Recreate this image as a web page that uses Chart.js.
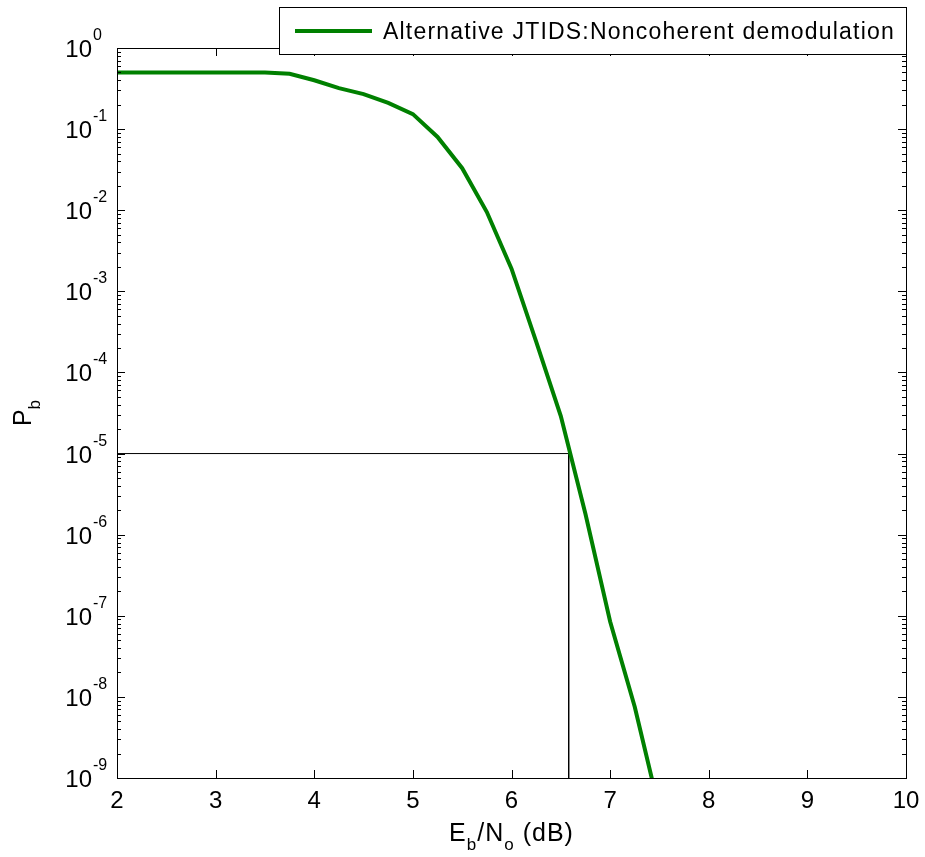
<!DOCTYPE html>
<html>
<head>
<meta charset="utf-8">
<script src="https://cdn.jsdelivr.net/npm/chart.js@4"></script>
<style>
  html, body { margin: 0; padding: 0; background: #fff; }
  #wrap { width: 925px; height: 857px; }
</style>
</head>
<body>
<div id="wrap"><canvas id="c" width="925" height="857"></canvas></div>
<script>
// Eb/No in dB
const ebno = [2, 2.25, 2.5, 2.75, 3, 3.25, 3.5, 3.75, 4, 4.25, 4.5, 4.75, 5, 5.25, 5.5, 5.75, 6, 6.25, 6.5, 6.75, 7, 7.25, 7.5];
// bit error probability
const pb = [0.5, 0.5, 0.5, 0.5, 0.5, 0.5, 0.5, 0.48, 0.40, 0.32, 0.27, 0.21, 0.153, 0.080, 0.033, 0.0095, 0.0019, 2.4e-4, 2.9e-5, 1.8e-6, 8.5e-8, 7.5e-9, 4e-10];
// where the curve hits 1e-5
const refX = [2, 6.58, 6.58];
const refY = [1e-5, 1e-5, 1e-9];
const xTicks = [2, 3, 4, 5, 6, 7, 8, 9, 10];
const yDecades = [0, -1, -2, -3, -4, -5, -6, -7, -8, -9];
const seriesLabel = "Alternative JTIDS:Noncoherent demodulation";

const FONT = "'Liberation Sans', Arial, Helvetica, sans-serif";

const curve = ebno.map((x, i) => ({ x: x, y: pb[i] }));
const refLine = refX.map((x, i) => ({ x: x, y: refY[i] }));

// draws frame, inward ticks, labels, legend, titles (matlab look)
const matlabAxes = {
  id: "matlabAxes",
  afterDraw(chart) {
    const ctx = chart.ctx;
    const a = chart.chartArea;
    const xs = chart.scales.x;
    const ys = chart.scales.y;
    ctx.save();
    ctx.strokeStyle = "#000";
    ctx.lineWidth = 1;
    ctx.strokeRect(Math.round(a.left) + 0.5, Math.round(a.top) + 0.5, Math.round(a.right - a.left), Math.round(a.bottom - a.top));

    // x ticks
    ctx.beginPath();
    xTicks.forEach(v => {
      const px = Math.round(xs.getPixelForValue(v)) + 0.5;
      ctx.moveTo(px, a.bottom); ctx.lineTo(px, a.bottom - 8);
      ctx.moveTo(px, a.top); ctx.lineTo(px, a.top + 8);
    });
    // y ticks, major + minor
    yDecades.forEach(d => {
      const py = Math.round(ys.getPixelForValue(Math.pow(10, d))) + 0.5;
      ctx.moveTo(a.left, py); ctx.lineTo(a.left + 8, py);
      ctx.moveTo(a.right, py); ctx.lineTo(a.right - 8, py);
      if (d > -9) {
        for (let m = 2; m <= 9; m++) {
          const pm = Math.round(ys.getPixelForValue(m * Math.pow(10, d - 1))) + 0.5;
          ctx.moveTo(a.left, pm); ctx.lineTo(a.left + 4, pm);
          ctx.moveTo(a.right, pm); ctx.lineTo(a.right - 4, pm);
        }
      }
    });
    ctx.stroke();

    ctx.fillStyle = "#000";
    // x tick labels
    ctx.font = "24px " + FONT;
    ctx.textAlign = "center";
    ctx.textBaseline = "alphabetic";
    xTicks.forEach(v => {
      ctx.fillText(String(v), xs.getPixelForValue(v), a.bottom + 30);
    });
    // y tick labels 10^n
    yDecades.forEach(d => {
      const py = ys.getPixelForValue(Math.pow(10, d));
      ctx.font = "24px " + FONT;
      ctx.textAlign = "right";
      ctx.fillText("10", 92, py + 9);
      ctx.font = "16px " + FONT;
      ctx.textAlign = "left";
      ctx.fillText(d === 0 ? "0" : "-" + (-d), 93, py - 8);
    });

    // x title  Eb/No (dB)
    const cx = (a.left + a.right) / 2;
    const parts = [["E", 0], ["b", 1], ["/N", 0], ["o", 1], [" (dB)", 0]];
    ctx.letterSpacing = "1px";
    let w = 0;
    parts.forEach(p => { ctx.font = (p[1] ? "17px " : "25px ") + FONT; w += ctx.measureText(p[0]).width; });
    let x0 = cx - w / 2;
    ctx.textAlign = "left";
    parts.forEach(p => {
      ctx.font = (p[1] ? "17px " : "25px ") + FONT;
      ctx.fillText(p[0], x0, p[1] ? 850 : 841);
      x0 += ctx.measureText(p[0]).width;
    });
    ctx.letterSpacing = "0px";

    // y title  Pb
    ctx.save();
    ctx.translate(31, (a.top + a.bottom) / 2);
    ctx.rotate(-Math.PI / 2);
    ctx.font = "25px " + FONT;
    const pw = ctx.measureText("P").width;
    ctx.font = "17px " + FONT;
    const bw = ctx.measureText("b").width;
    ctx.font = "25px " + FONT;
    ctx.fillText("P", -(pw + bw) / 2, 0);
    ctx.font = "17px " + FONT;
    ctx.fillText("b", -(pw + bw) / 2 + pw, 9);
    ctx.restore();

    // legend box
    const ds = chart.data.datasets[0];
    ctx.fillStyle = "#fff";
    ctx.fillRect(279, 7, 627, 47);
    ctx.strokeStyle = "#000";
    ctx.lineWidth = 1;
    ctx.strokeRect(279.5, 7.5, 627, 47);
    ctx.strokeStyle = ds.borderColor;
    ctx.lineWidth = ds.borderWidth;
    ctx.beginPath();
    ctx.moveTo(295, 31); ctx.lineTo(372, 31);
    ctx.stroke();
    ctx.fillStyle = "#000";
    ctx.font = "23px " + FONT;
    ctx.letterSpacing = "1.2px";
    ctx.fillText(ds.label, 383, 39);
    ctx.letterSpacing = "0px";
    ctx.restore();
  }
};

new Chart(document.getElementById("c"), {
  type: "line",
  data: {
    datasets: [
      {
        label: seriesLabel,
        data: curve,
        borderColor: "#008000",
        borderWidth: 4,
        pointRadius: 0,
        tension: 0,
        fill: false
      },
      {
        label: "ref",
        data: refLine,
        borderColor: "#000",
        borderWidth: 1,
        pointRadius: 0,
        tension: 0,
        fill: false
      }
    ]
  },
  options: {
    responsive: false,
    animation: false,
    devicePixelRatio: 1,
    layout: { padding: { left: 117, right: 19, top: 48, bottom: 79 } },
    plugins: {
      legend: { display: false },
      tooltip: { enabled: false }
    },
    scales: {
      x: {
        type: "linear",
        min: 2,
        max: 10,
        grid: { display: false },
        border: { display: false },
        ticks: { display: false },
        afterFit(s) { s.height = 0; }
      },
      y: {
        type: "logarithmic",
        min: 1e-9,
        max: 1,
        grid: { display: false },
        border: { display: false },
        ticks: { display: false },
        afterFit(s) { s.width = 0; }
      }
    }
  },
  plugins: [matlabAxes]
});
</script>
</body>
</html>
